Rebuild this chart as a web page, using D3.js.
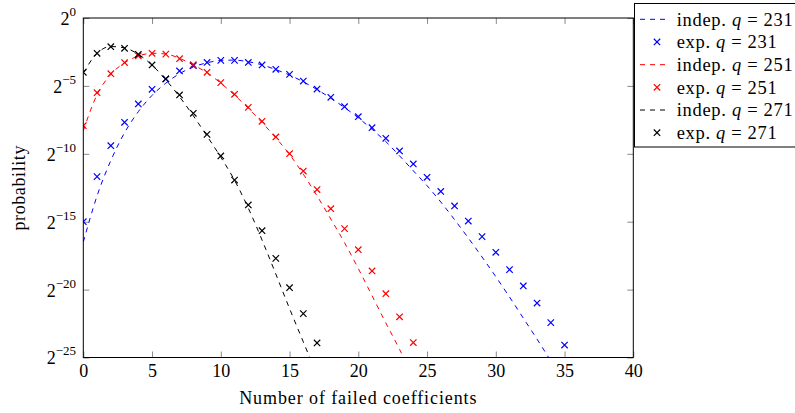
<!DOCTYPE html>
<html>
<head>
<meta charset="utf-8">
<script src="https://cdn.jsdelivr.net/npm/d3@7"></script>
<style>
  body { margin: 0; background: #fff; }
  text { font-family: "Liberation Serif", "DejaVu Serif", serif; fill: #000; }
</style>
</head>
<body>
<svg id="chart" width="795" height="413"></svg>
<script>
var width = 795;
var height = 413;

// plot frame (pixels)
var padding = { l: 83.3, r: 633.3, t: 18, b: 357.5 };

// axis ticks
var xTicks = [0, 5, 10, 15, 20, 25, 30, 35, 40];
var yTickExps = [0, -5, -10, -15, -20, -25];

// values are log2(probability)
// q = 231 (k = 0..35 / 0..34)
var exp231 = [-15.0, -11.68, -9.4, -7.68, -6.33, -5.25, -4.49, -3.9, -3.51, -3.27,
  -3.12, -3.12, -3.27, -3.46, -3.78, -4.15, -4.64, -5.23, -5.84, -6.53,
  -7.27, -8.08, -8.86, -9.79, -10.75, -11.73, -12.77, -13.84, -14.95, -16.1,
  -17.25, -18.53, -19.73, -20.99, -22.43, -24.08];
var indep231 = [-16.5, -13.1, -10.5, -8.45, -6.9, -5.7, -4.8, -4.1, -3.6, -3.3,
  -3.12, -3.1, -3.22, -3.45, -3.8, -4.2, -4.7, -5.27, -5.9, -6.6,
  -7.35, -8.2, -9.1, -10.15, -11.25, -12.35, -13.55, -14.85, -16.2, -17.6,
  -19.05, -20.55, -22.1, -23.65, -25.25];

// q = 251 (k = 0..24)
var exp251 = [-7.93, -5.5, -4.1, -3.28, -2.78, -2.6, -2.66, -3.0, -3.44, -4.0,
  -4.76, -5.62, -6.58, -7.61, -8.76, -9.99, -11.27, -12.63, -14.04, -15.51,
  -17.06, -18.63, -20.3, -22.0, -23.9];
var indep251 = [-8.3, -5.65, -4.15, -3.3, -2.8, -2.6, -2.65, -2.97, -3.46, -4.03,
  -4.8, -5.68, -6.65, -7.7, -8.82, -10.05, -11.5, -13.1, -14.8, -16.55,
  -18.45, -20.45, -22.45, -24.4, -26.5];

// q = 271 (k = 0..17)
var exp271 = [-4.0, -2.6, -2.11, -2.23, -2.67, -3.46, -4.49, -5.67, -7.02, -8.57,
  -10.16, -11.93, -13.77, -15.66, -17.7, -19.86, -21.77, -23.93];
var indep271 = [-4.05, -2.6, -2.1, -2.2, -2.67, -3.47, -4.55, -5.8, -7.2, -8.7,
  -10.25, -11.95, -14.0, -16.35, -18.85, -21.4, -23.85, -26.3];

var qValues = [231, 251, 271];
var colors = ['#0000ff', '#ff0000', '#000000'];
var expSeries = [exp231, exp251, exp271];
var indepSeries = [indep231, indep251, indep271];

var svg = d3.select('#chart');

var xScale = d3.scaleLinear().domain([0, 40]).range([padding.l, padding.r]);
var yScale = d3.scaleLog().base(2).domain([Math.pow(2, -25), 1]).range([padding.b, padding.t]);

function toPoints(arr) {
    return arr.map(function (v, k) { return { k: k, p: Math.pow(2, v) }; });
}

svg.append('defs').append('clipPath').attr('id', 'plotClip')
    .append('rect')
    .attr('x', padding.l).attr('y', padding.t)
    .attr('width', padding.r - padding.l).attr('height', padding.b - padding.t);

// Axes (ticks point inward on all four sides)
var yVals = yTickExps.map(function (e) { return Math.pow(2, e); });

var xAxis = d3.axisBottom(xScale).tickValues(xTicks).tickSizeInner(-6).tickSizeOuter(0).tickPadding(6.4);
var xAxisTop = d3.axisTop(xScale).tickValues(xTicks).tickSizeInner(-6).tickSizeOuter(0).tickFormat('');
var yAxis = d3.axisLeft(yScale).tickValues(yVals).tickSizeInner(-6).tickSizeOuter(0).tickPadding(7.3);
var yAxisRight = d3.axisRight(yScale).tickValues(yVals).tickSizeInner(-6).tickSizeOuter(0).tickFormat('');

var gx = svg.append('g').attr('transform', 'translate(0,' + padding.b + ')').call(xAxis);
gx.selectAll('text').attr('font-size', 18).attr('font-family', null);

svg.append('g').attr('transform', 'translate(0,' + padding.t + ')').call(xAxisTop);

var gy = svg.append('g').attr('transform', 'translate(' + padding.l + ',0)').call(yAxis);
gy.selectAll('.tick text')
    .attr('font-size', 18)
    .attr('font-family', null)
    .attr('dy', '0.36em')
    .text(null)
    .each(function (d) {
        var t = d3.select(this);
        var e = Math.round(Math.log2(d));
        t.append('tspan').text('2');
        t.append('tspan').attr('dy', -9).attr('font-size', 13)
            .text(e < 0 ? '\u2212' + (-e) : String(e));
    });

svg.append('g').attr('transform', 'translate(' + padding.r + ',0)').call(yAxisRight);

svg.selectAll('.tick line').attr('stroke', '#8a8a8a');
svg.selectAll('.domain').remove();

// dashed "indep." curves
var line = d3.line()
    .x(function (d) { return xScale(d.k); })
    .y(function (d) { return yScale(d.p); })
    .curve(d3.curveMonotoneX);

var plot = svg.append('g').attr('clip-path', 'url(#plotClip)');

indepSeries.forEach(function (arr, i) {
    plot.append('path')
        .datum(toPoints(arr))
        .attr('d', line)
        .attr('fill', 'none')
        .attr('stroke', colors[i])
        .attr('stroke-width', 1)
        .attr('stroke-dasharray', '5,5');
});

// "exp." crosses
var cross = 'M-3.2,-3.2L3.2,3.2M-3.2,3.2L3.2,-3.2';
expSeries.forEach(function (arr, i) {
    plot.selectAll('.mark' + i)
        .data(toPoints(arr))
        .enter()
        .append('path')
        .attr('class', 'mark' + i)
        .attr('transform', function (d) { return 'translate(' + xScale(d.k) + ',' + yScale(d.p) + ')'; })
        .attr('d', cross)
        .attr('fill', 'none')
        .attr('stroke', colors[i])
        .attr('stroke-width', 1.2);
});

// frame
svg.append('rect')
    .attr('x', padding.l).attr('y', padding.t)
    .attr('width', padding.r - padding.l).attr('height', padding.b - padding.t)
    .attr('fill', 'none').attr('stroke', '#000').attr('stroke-width', 1);

// axis labels
svg.append('text')
    .attr('x', (padding.l + padding.r) / 2)
    .attr('y', 404)
    .attr('text-anchor', 'middle')
    .attr('font-size', 18)
    .attr('letter-spacing', 0.9)
    .text('Number of failed coefficients');

svg.append('text')
    .attr('transform', 'translate(25,' + ((padding.t + padding.b) / 2) + ') rotate(-90)')
    .attr('text-anchor', 'middle')
    .attr('font-size', 18)
    .attr('letter-spacing', 0.6)
    .text('probability');

// legend
var legend = svg.append('g');
legend.append('rect')
    .attr('x', 634.5).attr('y', 3.5)
    .attr('width', 200).attr('height', 143.5)
    .attr('fill', '#fff').attr('stroke', '#000').attr('stroke-width', 1);

var legendRows = [];
qValues.forEach(function (q, i) {
    legendRows.push({ kind: 'indep.', q: q, color: colors[i], len: 116 });
    legendRows.push({ kind: 'exp.', q: q, color: colors[i], len: 100 });
});

legendRows.forEach(function (row, i) {
    var cy = 19.3 + i * 22.68;
    if (row.kind === 'indep.') {
        legend.append('line')
            .attr('x1', 640).attr('x2', 668)
            .attr('y1', cy).attr('y2', cy)
            .attr('stroke', row.color).attr('stroke-width', 1)
            .attr('stroke-dasharray', '5,5');
    } else {
        legend.append('path')
            .attr('transform', 'translate(657,' + cy + ')')
            .attr('d', cross)
            .attr('fill', 'none').attr('stroke', row.color).attr('stroke-width', 1.2);
    }
    var t = legend.append('text')
        .attr('x', 676.7).attr('y', cy + 6.3)
        .attr('font-size', 18.5)
        .attr('textLength', row.len)
        .attr('lengthAdjust', 'spacing');
    t.append('tspan').text(row.kind + ' ');
    t.append('tspan').attr('font-style', 'italic').text('q');
    t.append('tspan').text(' = ' + row.q);
});
</script>
</body>
</html>
